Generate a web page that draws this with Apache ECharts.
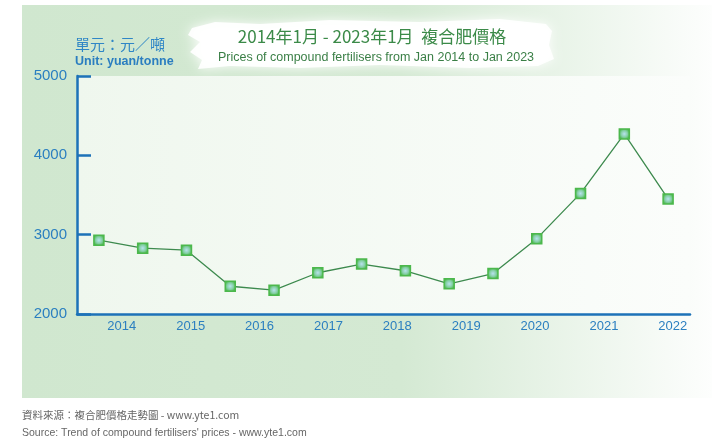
<!DOCTYPE html>
<html>
<head>
<meta charset="utf-8">
<script src="https://cdn.jsdelivr.net/npm/echarts@6/dist/echarts.min.js"></script>
<style>
  html, body { margin: 0; padding: 0; background: #fff; }
  #chart { width: 712px; height: 441px; }
</style>
</head>
<body>
<div id="chart"></div>
<script>
// sampled price points, left to right (yuan / tonne)
const samples = ['1', '2', '3', '4', '5', '6', '7', '8', '9', '10', '11', '12', '13', '14'];
const prices = [2930, 2830, 2805, 2350, 2300, 2520, 2630, 2545, 2380, 2510, 2950, 3520, 4270, 3450];
// year labels along the bottom
const years = [2014, 2015, 2016, 2017, 2018, 2019, 2020, 2021, 2022];

const blue = '#2b7fc0';
const narrow = '"Liberation Sans Narrow", "Liberation Sans", Arial, sans-serif';
const cjk = '"Noto Sans CJK TC", "Noto Sans CJK SC", sans-serif';

const chart = echarts.init(document.getElementById('chart'));

chart.setOption({
    backgroundColor: '#ffffff',
    animation: false,
    title: [
        {
            text: '2014年1月 - 2023年1月  複合肥價格',
            left: 367, top: 23, textAlign: 'center',
            textStyle: { color: '#3b8a48', fontSize: 17, fontWeight: 'normal', fontFamily: cjk }
        },
        {
            text: 'Prices of compound fertilisers from Jan 2014 to Jan 2023',
            left: 371, top: 46, textAlign: 'center',
            textStyle: { color: '#3a7f46', fontSize: 12.5, fontWeight: 'normal', fontFamily: narrow }
        }
    ],
    graphic: [
        {
            type: 'rect', z: -20,
            shape: { x: 22, y: 5, width: 690, height: 393 },
            style: {
                fill: {
                    type: 'linear', x: 0, y: 0, x2: 1, y2: 0,
                    colorStops: [
                        { offset: 0, color: '#d0e7cf' },
                        { offset: 0.55, color: '#d4e9d3' },
                        { offset: 1, color: '#fdfefd' }
                    ]
                }
            }
        },
        {
            type: 'rect', z: -19,
            shape: { x: 77, y: 76, width: 613, height: 238 },
            style: {
                fill: {
                    type: 'linear', x: 0, y: 0, x2: 1, y2: 0,
                    colorStops: [
                        { offset: 0, color: '#eff7ee' },
                        { offset: 1, color: '#fbfdfb' }
                    ]
                }
            }
        },
        {
            // brush stroke behind the title
            type: 'polygon', z: -18,
            shape: {
                points: [[192, 28], [215, 22], [260, 24], [330, 20], [420, 22], [500, 19], [546, 24], [552, 31],
                    [549, 45], [554, 59], [538, 66], [470, 68], [380, 65], [300, 68], [230, 66], [198, 69],
                    [202, 60], [190, 52], [200, 42], [188, 35]]
            },
            style: { fill: '#ffffff', opacity: 0.92, shadowBlur: 12, shadowColor: 'rgba(255,255,255,1)' }
        },
        {
            type: 'text', left: 75, top: 37,
            style: { text: '單元：元／噸', fill: '#2f86c6', font: '15px ' + cjk }
        },
        {
            type: 'text', left: 75, top: 55,
            style: { text: 'Unit: yuan/tonne', fill: '#2a7dc0', font: 'bold 12.5px ' + narrow }
        },
        {
            type: 'text', left: 22, top: 410,
            style: { text: '資料來源：複合肥價格走勢圖 - www.yte1.com', fill: '#666666', font: '10.5px ' + cjk }
        },
        {
            type: 'text', left: 22, top: 428,
            style: { text: "Source: Trend of compound fertilisers' prices - www.yte1.com", fill: '#666666', font: '10.5px ' + narrow }
        }
    ],
    grid: { left: 77, right: 22, top: 76, bottom: 127 },
    xAxis: [
        {
            type: 'category',
            data: samples,
            boundaryGap: true,
            show: false
        },
        {
            type: 'value',
            min: 2013.35,
            max: 2022.25,
            position: 'bottom',
            axisLine: { show: true, onZero: false, lineStyle: { color: '#1d72b8', width: 2.5 } },
            axisTick: { show: false },
            splitLine: { show: false },
            axisLabel: {
                customValues: years,
                formatter: (v) => String(v),
                color: blue, fontSize: 13, margin: 6, fontFamily: 'Arial, sans-serif'
            }
        }
    ],
    yAxis: {
        type: 'value',
        min: 2000,
        max: 5000,
        interval: 1000,
        axisLine: { show: true, lineStyle: { color: '#1d72b8', width: 2.5 } },
        axisTick: { show: true, inside: true, length: 14, lineStyle: { color: '#1d72b8', width: 2.5 } },
        splitLine: { show: false },
        axisLabel: {
            formatter: (v) => String(v),
            color: blue, fontSize: 15, margin: 10, fontFamily: 'Arial, sans-serif',
            padding: [0, 0, 6, 0]
        }
    },
    series: [
        {
            type: 'line',
            xAxisIndex: 0,
            data: prices,
            symbol: 'rect',
            symbolSize: 10,
            lineStyle: { color: '#3d8a4e', width: 1.3 },
            itemStyle: {
                color: {
                    type: 'radial', x: 0.5, y: 0.5, r: 0.5,
                    colorStops: [
                        { offset: 0, color: '#b8e2ee' },
                        { offset: 0.55, color: '#86d0a8' },
                        { offset: 1, color: '#4ab84a' }
                    ]
                },
                borderColor: '#4cb84c',
                borderWidth: 1.5
            }
        }
    ]
});
</script>
</body>
</html>
